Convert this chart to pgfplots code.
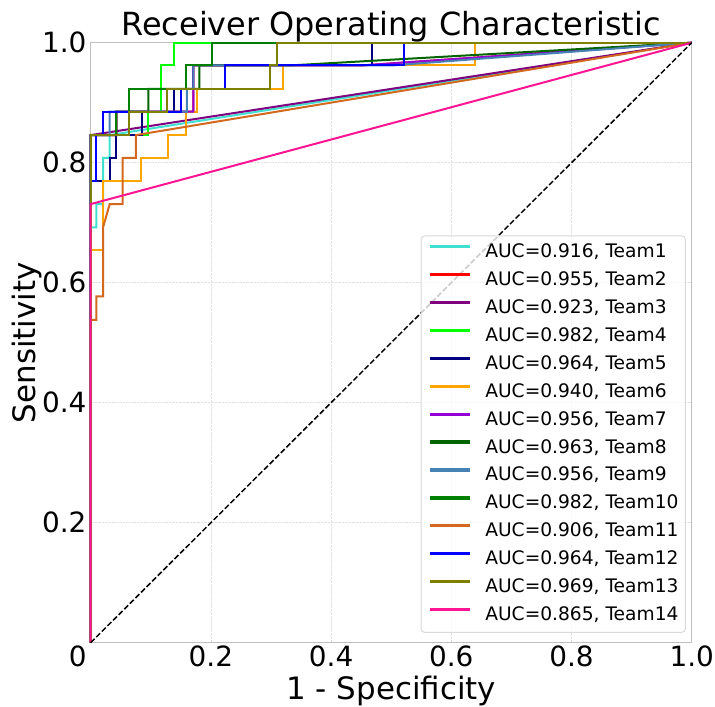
\documentclass[border=0pt]{standalone}
\usepackage{fontspec}
\setmainfont{DejaVu Sans}
\usepackage{pgfplots}
\pgfplotsset{compat=1.18}
\definecolor{cTurq}{HTML}{40E0D0}
\definecolor{cRed}{HTML}{FF0000}
\definecolor{cPurple}{HTML}{800080}
\definecolor{cLime}{HTML}{00FF00}
\definecolor{cNavy}{HTML}{000080}
\definecolor{cOrange}{HTML}{FFA500}
\definecolor{cDViolet}{HTML}{9400D3}
\definecolor{cDGreen}{HTML}{006400}
\definecolor{cSteel}{HTML}{4682B4}
\definecolor{cGreen}{HTML}{008000}
\definecolor{cChoc}{HTML}{D2691E}
\definecolor{cBlue}{HTML}{0000FF}
\definecolor{cOlive}{HTML}{808000}
\definecolor{cPink}{HTML}{FF1493}
\begin{document}
\begin{tikzpicture}
\path[use as bounding box] (-90.7bp,-64.3bp) rectangle (624.3bp,642.7bp);
\begin{axis}[
  at={(0,0)}, anchor=south west,
  scale only axis, width=601bp, height=600bp,
  xmin=0, xmax=1, ymin=0, ymax=1,
  clip=false,
  axis line style={draw=black!25, line width=1.2bp},
  major tick length=0pt,
  xtick={0.2,0.4,0.6,0.8,1}, ytick={0.2,0.4,0.6,0.8,1},
  xticklabels={0.2,0.4,0.6,0.8,1.0}, yticklabels={0.2,0.4,0.6,0.8,1.0},
  /pgf/number format/assume math mode=true,
  ticklabel style={font=\fontsize{28}{28}\selectfont, inner sep=0pt},
  xticklabel style={anchor=base, yshift=-24bp},
  yticklabel style={anchor=east, xshift=-4bp},
  grid=major, grid style={densely dotted, black!12, line width=0.8bp},
  legend style={at={(0.9905,0.0162)}, anchor=south east, draw=black!15, line width=1bp,
    rounded corners=4bp, fill=white, fill opacity=0.8, text opacity=1, draw opacity=1,
    inner xsep=7bp, inner ysep=8bp, row sep=9.9bp, column sep=14bp,
    font=\fontsize{18.7}{18.7}\selectfont,
    nodes={inner sep=0pt, text height=14bp, text depth=4bp}},
  legend cell align=left,
  legend image code/.code={\draw[#1, line width=3.3bp] (0bp,6bp) -- (40bp,6bp);},
  every axis plot/.append style={line width=2bp},
]
\addplot[cTurq] coordinates {(0,0)(0,0.692)(0.0095,0.692)(0.0095,0.731)(0.0205,0.731)(0.0205,0.808)(0.0316,0.808)(0.0316,0.846)(1,1)};
\addlegendentry{AUC=0.916, Team1}
\addplot[cRed] coordinates {(0,0)(0,0.846)(0.0427,0.846)(0.0427,0.885)(0.171,0.885)(0.171,0.962)(0.45,0.962)(1,1)};
\addlegendentry{AUC=0.955, Team2}
\addplot[cPurple] coordinates {(0,0)(0,0.846)(1,1)};
\addlegendentry{AUC=0.923, Team3}
\addplot[cLime] coordinates {(0,0)(0,0.846)(0.0947,0.846)(0.0947,0.885)(0.1165,0.885)(0.1165,0.962)(0.138,0.962)(0.138,1)(1,1)};
\addlegendentry{AUC=0.982, Team4}
\addplot[cNavy] coordinates {(0,0)(0,0.769)(0.0316,0.769)(0.0316,0.808)(0.0427,0.808)(0.0427,0.846)(0.0848,0.846)(0.0848,0.885)(0.139,0.885)(0.139,0.923)(0.171,0.923)(0.171,0.962)(0.468,0.962)(0.468,1)(1,1)};
\addlegendentry{AUC=0.964, Team5}
\addplot[cOrange] coordinates {(0,0)(0,0.654)(0.0205,0.654)(0.0205,0.769)(0.084,0.769)(0.084,0.808)(0.1286,0.808)(0.1286,0.846)(0.159,0.846)(0.159,0.885)(0.177,0.885)(0.177,0.923)(0.32,0.923)(0.32,0.962)(0.639,0.962)(0.639,1)(1,1)};
\addlegendentry{AUC=0.940, Team6}
\addplot[cDViolet] coordinates {(0,0)(0,0.846)(0.0427,0.846)(0.0427,0.885)(0.171,0.885)(0.171,0.962)(0.45,0.962)(1,1)};
\addlegendentry{AUC=0.956, Team7}
\addplot[cDGreen] coordinates {(0,0)(0,0.846)(0.0427,0.846)(0.0427,0.885)(0.0958,0.885)(0.0958,0.923)(0.181,0.923)(0.181,0.962)(0.33,0.962)(1,1)};
\addlegendentry{AUC=0.963, Team8}
\addplot[cSteel] coordinates {(0,0)(0,0.846)(0.0316,0.846)(0.0316,0.885)(0.16,0.885)(0.16,0.923)(0.171,0.923)(0.171,0.962)(0.5,0.962)(1,1)};
\addlegendentry{AUC=0.956, Team9}
\addplot[cGreen] coordinates {(0,0)(0,0.846)(0.0427,0.846)(0.0427,0.885)(0.0637,0.885)(0.0637,0.923)(0.159,0.923)(0.159,0.962)(0.202,0.962)(0.202,1)(1,1)};
\addlegendentry{AUC=0.982, Team10}
\addplot[cChoc] coordinates {(0,0)(0,0.538)(0.0095,0.538)(0.0095,0.577)(0.0205,0.577)(0.0205,0.692)(0.0316,0.731)(0.053,0.731)(0.053,0.808)(0.075,0.808)(0.075,0.846)(1,1)};
\addlegendentry{AUC=0.906, Team11}
\addplot[cBlue] coordinates {(0,0)(0,0.769)(0.0093,0.769)(0.0093,0.846)(0.0205,0.846)(0.0205,0.885)(0.1497,0.885)(0.1497,0.923)(0.2235,0.923)(0.2235,0.962)(0.522,0.962)(0.522,1)(1,1)};
\addlegendentry{AUC=0.964, Team12}
\addplot[cOlive] coordinates {(0,0)(0,0.846)(0.0637,0.846)(0.0637,0.885)(0.1275,0.885)(0.1275,0.923)(0.2985,0.923)(0.2985,0.962)(0.3095,0.962)(0.3095,1)(1,1)};
\addlegendentry{AUC=0.969, Team13}
\addplot[cPink] coordinates {(0,0)(0,0.731)(1,1)};
\addlegendentry{AUC=0.865, Team14}
\addplot[black, line width=1.5bp, dash pattern=on 5.5bp off 2.4bp, forget plot] coordinates {(0,0)(1,1)};
\node[anchor=base east, inner sep=0pt, xshift=-4bp, yshift=-24bp, font=\fontsize{28}{28}\selectfont] at (rel axis cs:0,0) {0};
\node[anchor=base, inner sep=0pt, yshift=6.7bp, font=\fontsize{32}{32}\selectfont] at (rel axis cs:0.5,1) {Receiver Operating Characteristic};
\node[anchor=base, inner sep=0pt, yshift=-56.6bp, font=\fontsize{31}{31}\selectfont] at (rel axis cs:0.5,0) {1 - Specificity};
\node[anchor=base, inner sep=0pt, xshift=-55.2bp, rotate=90, font=\fontsize{31}{31}\selectfont] at (rel axis cs:0,0.5) {Sensitivity};
\end{axis}
\end{tikzpicture}
\end{document}
